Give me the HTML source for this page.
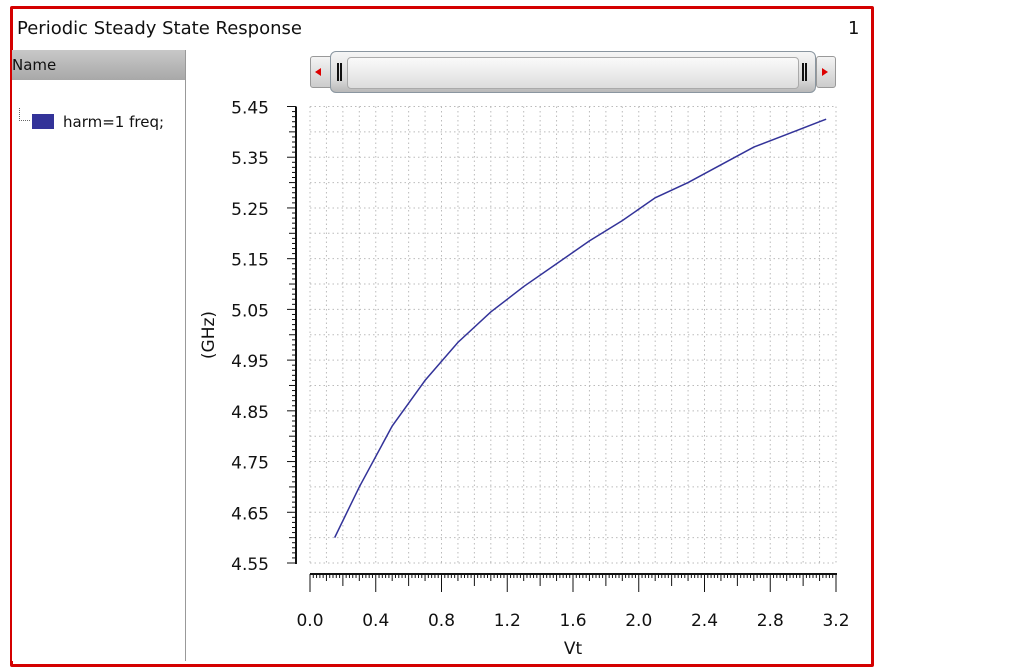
<!DOCTYPE html>
<html><head><meta charset="utf-8"><style>
body{margin:0;width:1013px;height:668px;background:#fff;font-family:"DejaVu Sans","Liberation Sans",sans-serif;overflow:hidden;position:relative}
.abs{position:absolute}
</style></head><body>
<div class="abs" style="left:10px;top:6px;width:858px;height:655px;border:3px solid #d40000;border-radius:2px"></div>
<div class="abs" style="left:17px;top:18px;font-size:18px;color:#111">Periodic Steady State Response</div>
<div class="abs" style="left:848px;top:18px;font-size:18px;color:#111">1</div>
<div class="abs" style="left:12px;top:50px;width:173px;height:611px;border-right:1px solid #999;background:#fff">
  <div style="height:30px;background:linear-gradient(#c8c8c8,#a8a8a8);font-size:15px;line-height:30px;color:#111">Name</div>
  <div style="position:absolute;left:20px;top:63px;font-size:15px;color:#111;white-space:nowrap">
    <span style="display:inline-block;width:22px;height:15px;background:#333399;vertical-align:-2px;margin-right:9px"></span>harm=1 freq;</div>
  <div style="position:absolute;left:7px;top:58px;width:10px;height:12px;border-left:1px dotted #666;border-bottom:1px dotted #666"></div>
</div>
<div class="abs" style="left:310px;top:51px;width:524px;height:42px">
  <div style="position:absolute;left:0;top:5px;width:22px;height:30px;background:linear-gradient(#f4f4f4,#ccc);border:1px solid #999;border-radius:3px"><div style="position:absolute;left:4px;top:11px;width:0;height:0;border-top:4px solid transparent;border-bottom:4px solid transparent;border-right:6px solid #d00"></div></div>
  <div style="position:absolute;left:20px;top:0;width:484px;height:40px;background:linear-gradient(#f6f6f6,#d8d8d8 70%,#b8b8b8);border:1px solid #8a96a0;border-radius:6px"></div>
  <div style="position:absolute;left:37px;top:6px;width:450px;height:30px;background:linear-gradient(#fafafa,#ddd);border:1px solid #aaa;border-radius:4px"></div>
  <div style="position:absolute;left:27px;top:12px;width:5px;height:18px;border-left:2px solid #111;border-right:2px solid #111;box-sizing:border-box"></div>
  <div style="position:absolute;left:492px;top:12px;width:5px;height:18px;border-left:2px solid #111;border-right:2px solid #111;box-sizing:border-box"></div>
  <div style="position:absolute;left:506px;top:5px;width:18px;height:30px;background:linear-gradient(#f4f4f4,#ccc);border:1px solid #999;border-radius:3px"><div style="position:absolute;left:5px;top:11px;width:0;height:0;border-top:4px solid transparent;border-bottom:4px solid transparent;border-left:6px solid #d00"></div></div>
</div>
<svg id="chart" class="abs" style="left:0;top:0" width="1013" height="668"></svg>
<script>
const xTicks=[0.0,0.4,0.8,1.2,1.6,2.0,2.4,2.8,3.2];
const yTicks=[4.55,4.65,4.75,4.85,4.95,5.05,5.15,5.25,5.35,5.45];
const vt=[0.15,0.3,0.5,0.7,0.9,1.1,1.3,1.5,1.7,1.9,2.1,2.3,2.5,2.7,2.9,3.1,3.14];
const freq=[4.60,4.70,4.82,4.91,4.985,5.045,5.095,5.14,5.185,5.225,5.27,5.30,5.335,5.37,5.395,5.42,5.425];
const X0=310,X1=836,Y0=563,Y1=106.5;
const xs=v=>X0+(v-0)/(3.2-0)*(X1-X0);
const ys=v=>Y0-(v-4.55)/(5.45-4.55)*(Y0-Y1);
const svg=document.getElementById('chart');const NS='http://www.w3.org/2000/svg';
function mk(t,a,p){const e=document.createElementNS(NS,t);for(const k in a)e.setAttribute(k,a[k]);(p||svg).appendChild(e);return e;}
const grid=mk('g',{});


for(let i=0;i<=32;i++){const x=xs(i*0.1);mk('line',{x1:x,x2:x,y1:Y1,y2:Y0,stroke:'#bbb','stroke-dasharray':'1.5,3'},grid);}
for(let i=0;i<=18;i++){const y=ys(4.55+i*0.05);mk('line',{x1:X0,x2:X1,y1:y,y2:y,stroke:'#bbb','stroke-dasharray':'1.5,3'},grid);}
// y ruler
const yr=mk('g',{});


mk('line',{x1:296,x2:296,y1:Y1,y2:Y0+1,stroke:'#111','stroke-width':2},yr);
for(let i=0;i<=90;i++){const y=ys(4.55+i*0.01);const L=i%10==0?9:(i%5==0?7:4);mk('line',{x1:296-L,x2:296,y1:y,y2:y,stroke:'#111'},yr);}
yTicks.forEach(v=>{const t=mk('text',{x:269,y:ys(v)+7,'text-anchor':'end','font-size':17,fill:'#111'},yr);t.textContent=v.toFixed(2);});
const yl=mk('text',{x:0,y:0,transform:'translate(214,335) rotate(-90)','text-anchor':'middle','font-size':17,fill:'#111'});


yl.textContent='(GHz)';
// x ruler
const xr=mk('g',{});


mk('line',{x1:X0,x2:X1+1,y1:574,y2:574,stroke:'#111','stroke-width':2},xr);
for(let i=0;i<=160;i++){const x=xs(i*0.02);const L=i%20==0?18:(i%10==0?12:(i%5==0?7:4));mk('line',{x1:x,x2:x,y1:574,y2:574+L,stroke:'#111'},xr);}
xTicks.forEach(v=>{const t=mk('text',{x:xs(v),y:626,'text-anchor':'middle','font-size':17,fill:'#111'},xr);t.textContent=v.toFixed(1);});
const xl=mk('text',{x:573,y:654,'text-anchor':'middle','font-size':17,fill:'#111'});


xl.textContent='Vt';
const line=mk('polyline',{points:vt.map((v,i)=>xs(v)+','+ys(freq[i])).join(' '),fill:'none',stroke:'#333399','stroke-width':1.5});


</script>
</body></html>
